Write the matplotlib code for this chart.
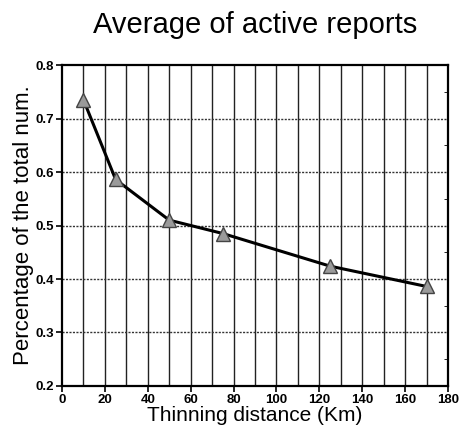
import matplotlib
matplotlib.use("Agg")
import matplotlib.pyplot as plt
import numpy as np

plt.rcParams['font.family'] = ['Liberation Sans', 'DejaVu Sans']

distance_km = [10, 25, 50, 75, 125, 170]
active_share = [0.735, 0.586, 0.51, 0.485, 0.424, 0.386]
x_ticks = [0, 20, 40, 60, 80, 100, 120, 140, 160, 180]
y_ticks = [0.2, 0.3, 0.4, 0.5, 0.6, 0.7, 0.8]

fig = plt.figure(figsize=(4.61, 4.32), dpi=100)
ax = fig.add_axes([0.1345, 0.1065, 0.8375, 0.743])

ax.set_xlim(0, 180)
ax.set_ylim(0.2, 0.8)

# solid vertical grid every 10 km, dotted horizontal grid every 0.1
for xv in np.arange(10, 180, 10):
    ax.axvline(xv, color='#222222', lw=1.0, zorder=1)
for yv in y_ticks[1:-1]:
    ax.axhline(yv, color='#333333', lw=1.0, ls=(0, (1.5, 1)), zorder=1)

ax.plot(distance_km, active_share, color='black', lw=2.2, zorder=3)
ax.plot(distance_km, active_share, ls='none', marker='^', ms=10,
        mfc='#9a9a9a', mec='#444444', mew=1.0, zorder=4)

ax.set_xticks(x_ticks)
ax.set_yticks(y_ticks)
ax.set_xticklabels([str(v) for v in x_ticks], fontsize=9.5, fontweight='bold')
ax.set_yticklabels([f"{v:.1f}" for v in y_ticks], fontsize=9.5, fontweight='bold')
ax.set_yticks(np.arange(0.25, 0.8, 0.1), minor=True)
ax.tick_params(axis='both', direction='out', length=4, width=1.2, pad=2)
ax.tick_params(axis='y', which='major', right=False)
ax.tick_params(axis='y', which='minor', left=False, right=True, length=3, direction='in')

for sp in ax.spines.values():
    sp.set_linewidth(1.6)

ax.set_xlabel('Thinning distance (Km)', fontsize=15, labelpad=0)
ax.set_ylabel('Percentage of the total num.', fontsize=16, labelpad=1)
ax.set_title('Average of active reports', fontsize=21, pad=23)

fig.savefig('out.png', dpi=100)
